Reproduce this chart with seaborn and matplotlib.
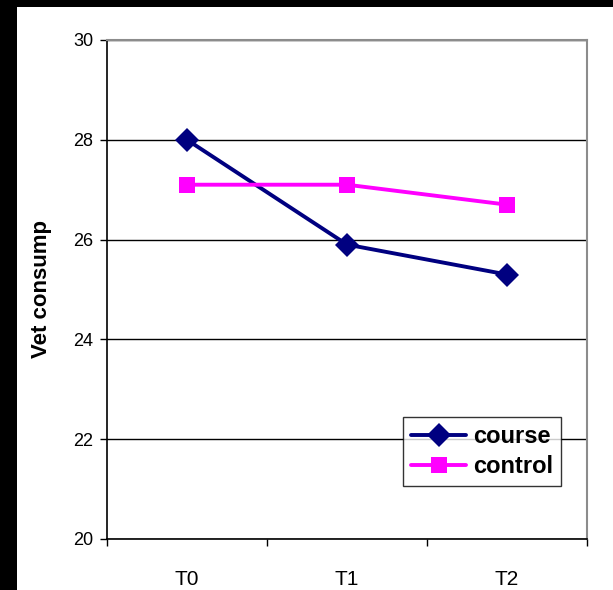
import numpy as np
import pandas as pd
import matplotlib
matplotlib.use('Agg')
import matplotlib.pyplot as plt
from matplotlib.patches import Rectangle
import seaborn as sns

# data
times = ['T0', 'T1', 'T2']
course = [28.0, 25.9, 25.3]
control = [27.1, 27.1, 26.7]

df = pd.DataFrame({
    'pos': [0, 1, 2] * 2,
    'value': course + control,
    'group': ['course'] * 3 + ['control'] * 3,
})

sns.set_theme(style='white')
plt.rcParams['font.family'] = ['Liberation Sans', 'DejaVu Sans']
plt.rcParams['text.color'] = 'black'
plt.rcParams['axes.labelcolor'] = 'black'

fig = plt.figure(figsize=(6.13, 5.9), dpi=100)
fig.patch.set_facecolor('white')
# black frame strips (left and top) as in the screenshot
fig.patches.append(Rectangle((0, 0), 17 / 613, 1, transform=fig.transFigure,
                             facecolor='black', edgecolor='none', zorder=0))
fig.patches.append(Rectangle((0, 1 - 7 / 590), 1, 7 / 590, transform=fig.transFigure,
                             facecolor='black', edgecolor='none', zorder=0))

ax = fig.add_axes([107 / 613, 51 / 590, 480 / 613, 499 / 590])

palette = {'course': '#000080', 'control': '#FF00FF'}
markers = {'course': 'D', 'control': 's'}
sns.lineplot(data=df, x='pos', y='value', hue='group', style='group',
             palette=palette, markers=markers, dashes=False,
             linewidth=2.8, markersize=12, markeredgewidth=0, ax=ax)

ax.set_xlim(-0.5, 2.5)
ax.set_ylim(20, 30)
ax.set_yticks(np.arange(20, 31, 2))
# category labels centred between the tick marks
ax.set_xticks([-0.5, 0.5, 1.5, 2.5])
ax.set_xticklabels([])
ax.set_xticks([0, 1, 2], minor=True)
ax.set_xticklabels(times, minor=True)
ax.tick_params(axis='x', which='minor', length=0, pad=22, labelsize=15, bottom=True)
ax.tick_params(axis='x', which='major', length=5, direction='out', width=1, bottom=True)
ax.tick_params(axis='y', length=5, direction='out', width=1, labelsize=13, pad=5, left=True)
ax.tick_params(axis='both', which='both', colors='black', labelcolor='black')

ax.yaxis.grid(True, color='black', linewidth=1)
ax.set_axisbelow(True)
for side in ['left', 'bottom']:
    ax.spines[side].set_color('black')
    ax.spines[side].set_linewidth(1.2)
for side in ['top', 'right']:
    ax.spines[side].set_color('#8c8c8c')
    ax.spines[side].set_linewidth(1.5)

ax.set_xlabel('')
ax.set_ylabel('Vet consump', fontsize=16, fontweight='bold', labelpad=15, color='black')

leg = ax.legend(loc='upper left', bbox_to_anchor=(0.617, 0.245),
                frameon=True, fancybox=False, prop={'weight': 'bold', 'size': 17},
                handlelength=2.3, handletextpad=0.3, borderpad=0.35,
                labelspacing=0.3, borderaxespad=0)
leg.get_frame().set_edgecolor('black')
leg.get_frame().set_linewidth(1)
for t in leg.get_texts():
    t.set_color('black')
for h in leg.legend_handles:
    h.set_linewidth(2.8)

fig.savefig('out.png', dpi=100, facecolor='white')
